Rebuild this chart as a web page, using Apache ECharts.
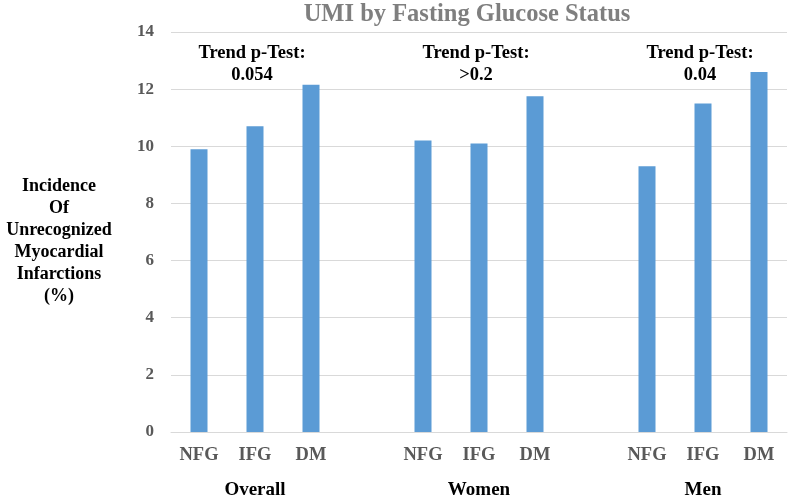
<!DOCTYPE html>
<html>
<head>
<meta charset="utf-8">
<script src="https://cdn.jsdelivr.net/npm/echarts@6/dist/echarts.min.js"></script>
<style>html,body{margin:0;padding:0;background:#fff}#c{width:794px;height:498px}</style>
</head>
<body>
<div id="c"></div>
<script>
var groups = ['Overall', 'Women', 'Men'];
var statuses = ['NFG', 'IFG', 'DM'];
var overallValues = [9.9, 10.7, 12.15];
var womenValues = [10.2, 10.1, 11.75];
var menValues = [9.3, 11.5, 12.6];
var trendValues = ['0.054', '>0.2', '0.04'];
var yTicks = [0, 2, 4, 6, 8, 10, 12, 14];

var groupValues = [overallValues, womenValues, menValues];
var categories = [];
var data = [];
groupValues.forEach(function (vals, gi) {
  if (gi > 0) { categories.push('gap' + gi); data.push(null); }
  statuses.forEach(function (s, si) {
    categories.push(s + '_' + gi);
    data.push(vals[si]);
  });
});

var font = '"Liberation Serif", "Times New Roman", serif';
var chart = echarts.init(document.getElementById('c'));
chart.setOption({
  animation: false,
  grid: { left: 171, right: 7, top: 32, bottom: 66 },
  xAxis: {
    type: 'category',
    data: categories,
    axisLine: { lineStyle: { color: '#d9d9d9' } },
    axisTick: { show: false },
    axisLabel: {
      interval: 0, margin: 14,
      formatter: function (v) { return v.indexOf('gap') === 0 ? '' : v.split('_')[0]; },
      fontFamily: font, fontWeight: 'bold', fontSize: 18.5, color: '#595959'
    }
  },
  yAxis: {
    type: 'value', min: yTicks[0], max: yTicks[yTicks.length - 1], interval: 2,
    axisLine: { show: false }, axisTick: { show: false },
    splitLine: { lineStyle: { color: '#d9d9d9' } },
    axisLabel: { margin: 17, fontFamily: font, fontWeight: 'bold', fontSize: 17, color: '#595959' }
  },
  series: [{
    type: 'bar', data: data, barWidth: 17,
    itemStyle: { color: '#5b9bd5' }
  }]
});

var graphics = [];
graphics.push({
  type: 'text', x: 467, y: 15,
  style: {
    text: 'UMI by Fasting Glucose Status', textAlign: 'center', textVerticalAlign: 'middle',
    font: 'bold 24.5px ' + font, fill: '#7f7f7f'
  }
});
graphics.push({
  type: 'text', x: 59, y: 175,
  style: {
    text: 'Incidence\nOf\nUnrecognized\nMyocardial\nInfarctions\n(%)',
    textAlign: 'center', lineHeight: 22,
    font: 'bold 18px ' + font, fill: '#000'
  }
});
groups.forEach(function (g, gi) {
  var center = chart.convertToPixel({ xAxisIndex: 0 }, 'IFG_' + gi);
  var topPx = chart.convertToPixel({ yAxisIndex: 0 }, 14);
  var basePx = chart.convertToPixel({ yAxisIndex: 0 }, 0);
  graphics.push({
    type: 'text', x: center, y: basePx + 58,
    style: { text: g, textAlign: 'center', textVerticalAlign: 'middle', font: 'bold 19px ' + font, fill: '#000' }
  });
  graphics.push({
    type: 'text', x: center - 3, y: topPx + 21,
    style: { text: 'Trend p-Test:', textAlign: 'center', textVerticalAlign: 'middle', font: 'bold 18.5px ' + font, fill: '#000' }
  });
  graphics.push({
    type: 'text', x: center - 3, y: topPx + 43,
    style: { text: trendValues[gi], textAlign: 'center', textVerticalAlign: 'middle', font: 'bold 18.5px ' + font, fill: '#000' }
  });
});
chart.setOption({ graphic: graphics });
</script>
</body>
</html>
